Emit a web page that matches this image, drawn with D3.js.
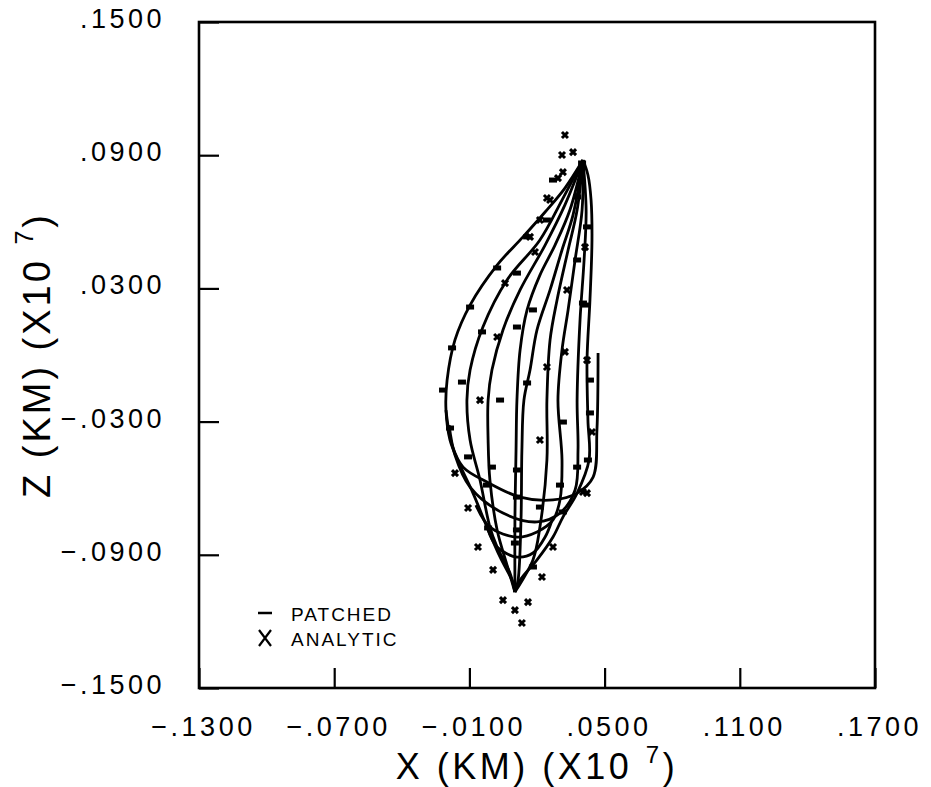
<!DOCTYPE html>
<html lang="en">
<head>
<meta charset="utf-8">
<title>X-Z projection, patched vs analytic</title>
<script src="https://d3js.org/d3.v7.min.js"></script>
<style>
  body { margin: 0; background: #fff; }
  text { font-family: "Liberation Sans", Arial, sans-serif; fill: #000; }
</style>
</head>
<body>
<script>
// tick values and labels (x10^7 km)
var xTickValues = [-0.13, -0.07, -0.01, 0.05, 0.11, 0.17];
var xTickLabels = ["\u2212.1300", "\u2212.0700", "\u2212.0100", ".0500", ".1100", ".1700"];
var zTickValues = [-0.15, -0.09, -0.03, 0.03, 0.09, 0.15];
var zTickLabels = ["\u2212.1500", "\u2212.0900", "\u2212.0300", ".0300", ".0900", ".1500"];
var legendLabels = ["PATCHED", "ANALYTIC"];

// patched trajectories, [x, z]
var outerLeft = [[0.0404,0.0878],[0.0324,0.0752],[0.0236,0.0644],[0.0138,0.0532],[0.0023,0.0405],[-0.0097,0.0225],[-0.0164,0.0068],[-0.0199,-0.0113],[-0.0204,-0.0248],[-0.0186,-0.0383],[-0.0142,-0.0496],[-0.0084,-0.0622],[-0.0022,-0.0775],[0.0036,-0.0910],[0.0094,-0.1027],[0.0102,-0.1068]];
var track2 = [[0.0404,0.0878],[0.0311,0.0698],[0.0213,0.0518],[0.0067,0.0338],[-0.0040,0.0126],[-0.0097,-0.0068],[-0.0111,-0.0203],[-0.0097,-0.0383],[-0.0053,-0.0563],[-0.0009,-0.0775],[0.0023,-0.0865],[0.0080,-0.0982],[0.0102,-0.1068]];
var track3 = [[0.0404,0.0878],[0.0324,0.0676],[0.0236,0.0495],[0.0125,0.0293],[0.0049,0.0113],[0.0000,-0.0068],[-0.0017,-0.0203],[-0.0017,-0.0383],[-0.0009,-0.0563],[0.0023,-0.0788],[0.0067,-0.0946],[0.0102,-0.1068]];
var track4 = [[0.0404,0.0878],[0.0346,0.0653],[0.0280,0.0495],[0.0213,0.0360],[0.0156,0.0203],[0.0125,0.0023],[0.0111,-0.0203],[0.0107,-0.0428],[0.0102,-0.0743],[0.0102,-0.1068]];
var track5 = [[0.0404,0.0878],[0.0360,0.0631],[0.0311,0.0473],[0.0258,0.0293],[0.0200,0.0113],[0.0169,-0.0068],[0.0142,-0.0203],[0.0133,-0.0428],[0.0129,-0.0743],[0.0116,-0.1014],[0.0102,-0.1068]];
var track6 = [[0.0404,0.0878],[0.0378,0.0653],[0.0338,0.0473],[0.0289,0.0248],[0.0258,0.0068],[0.0244,-0.0203],[0.0244,-0.0473],[0.0213,-0.0775],[0.0182,-0.0923],[0.0102,-0.1068]];
var track7 = [[0.0404,0.0878],[0.0400,0.0653],[0.0369,0.0428],[0.0338,0.0203],[0.0311,0.0023],[0.0293,-0.0203],[0.0311,-0.0473],[0.0302,-0.0653],[0.0271,-0.0743],[0.0200,-0.0797],[0.0111,-0.0820],[-0.0009,-0.0775],[-0.0071,-0.0676]];
var track8 = [[0.0404,0.0878],[0.0418,0.0653],[0.0409,0.0428],[0.0391,0.0158],[0.0378,-0.0203],[0.0382,-0.0428],[0.0369,-0.0608],[0.0302,-0.0712],[0.0200,-0.0752],[0.0049,-0.0712],[-0.0097,-0.0595],[-0.0164,-0.0451],[-0.0190,-0.0316]];
var outerRight = [[0.0404,0.0878],[0.0426,0.0811],[0.0440,0.0698],[0.0444,0.0518],[0.0435,0.0248],[0.0422,-0.0023],[0.0426,-0.0293],[0.0431,-0.0473],[0.0378,-0.0622],[0.0315,-0.0730],[0.0271,-0.0820],[0.0200,-0.0923],[0.0125,-0.1014],[0.0102,-0.1068]];
var arcWide = [[-0.0204,-0.0248],[-0.0177,-0.0405],[-0.0128,-0.0505],[-0.0022,-0.0572],[0.0125,-0.0640],[0.0271,-0.0653],[0.0378,-0.0622],[0.0449,-0.0550],[0.0466,-0.0338],[0.0471,0.0009]];
var arcLow = [[-0.0022,-0.0775],[0.0023,-0.0865],[0.0111,-0.0910],[0.0182,-0.0892],[0.0236,-0.0820],[0.0267,-0.0743]];

// patched points on the tracks
var patchedPts = [[-0.0097,0.0216],[-0.0177,0.0032],[-0.0217,-0.0158],[-0.0186,-0.0329],[-0.0044,0.0104],[-0.0133,-0.0122],[0.0036,-0.0203],[0.0111,0.0126],[0.0182,0.0203],[0.0156,-0.0126],[0.0315,-0.0302],[0.0413,0.0225],[0.0435,-0.0113],[0.0435,-0.0261],[0.0426,-0.0473],[0.0378,-0.0505],[0.0000,-0.0505],[0.0111,-0.0518],[-0.0106,-0.0459],[0.0023,0.0392],[0.0111,0.0369],[0.0156,0.0532],[0.0244,0.0608],[0.0271,0.0788],[0.0378,0.0428],[0.0404,0.0234],[0.0422,0.0577],[0.0378,0.0712],[-0.0022,-0.0586],[-0.0017,-0.0779],[0.0111,-0.0640],[0.0111,-0.0788],[0.0102,-0.0847],[0.0213,-0.0685],[0.0302,-0.0586],[0.0315,-0.0707],[0.0182,-0.0955],[0.0400,0.0865]];

// analytic points
var analyticPts = [[0.0023,0.0081],[-0.0053,-0.0203],[0.0244,-0.0054],[0.0213,-0.0383],[0.0324,0.0014],[0.0422,-0.0023],[0.0444,-0.0347],[0.0404,-0.0617],[-0.0164,-0.0532],[0.0058,0.0324],[0.0191,0.0464],[0.0258,0.0698],[0.0333,0.0293],[0.0413,0.0486],[-0.0106,-0.0689],[-0.0062,-0.0865],[0.0005,-0.0968],[0.0422,-0.0622],[0.0271,-0.0865],[0.0222,-0.1000],[0.0049,-0.1104],[0.0102,-0.1149],[0.0160,-0.1113],[0.0133,-0.1207],[0.0324,0.0991],[0.0311,0.0901],[0.0360,0.0914],[0.0293,0.0797],[0.0315,0.0824],[0.0244,0.0707],[0.0213,0.0608],[0.0169,0.0532]];

var tracks = [outerLeft, track2, track3, track4, track5, track6, track7, track8, outerRight, arcWide, arcLow];

var w = 931, h = 787;
var plotL = 199, plotR = 875, plotT = 22, plotB = 688;

var xScale = d3.scaleLinear().domain([-0.13, 0.17]).range([plotL, plotR]);
var zScale = d3.scaleLinear().domain([-0.15, 0.15]).range([plotB, plotT]);

var svg = d3.select("body").append("svg")
  .attr("width", w)
  .attr("height", h);

// axes, ticks pointing inward
var xAxis = d3.axisBottom(xScale)
  .tickValues(xTickValues)
  .tickSize(-20)
  .tickPadding(29)
  .tickFormat(function(d, i) { return xTickLabels[i]; });

var zAxis = d3.axisLeft(zScale)
  .tickValues(zTickValues)
  .tickSize(-20)
  .tickPadding(34)
  .tickFormat(function(d, i) { return zTickLabels[i]; });

var gx = svg.append("g")
  .attr("transform", "translate(0," + plotB + ")")
  .call(xAxis);
var gz = svg.append("g")
  .attr("transform", "translate(" + plotL + ",0)")
  .call(zAxis);

[gx, gz].forEach(function(g) {
  g.select(".domain").remove();
  g.selectAll(".tick line").attr("stroke", "#000").attr("stroke-width", 2.2);
  g.selectAll(".tick text")
    .attr("font-size", "27px")
    .attr("letter-spacing", "3.5px")
    .attr("fill", "#000");
});
gx.selectAll(".tick text").attr("dx", "4");
gz.selectAll(".tick text").attr("dy", "0.2em");

// frame
svg.append("rect")
  .attr("x", plotL)
  .attr("y", plotT)
  .attr("width", plotR - plotL)
  .attr("height", plotB - plotT)
  .attr("fill", "none")
  .attr("stroke", "#000")
  .attr("stroke-width", 2.6);

// tracks
var line = d3.line()
  .x(function(d) { return xScale(d[0]); })
  .y(function(d) { return zScale(d[1]); })
  .curve(d3.curveCatmullRom.alpha(0.5));

svg.append("g").selectAll("path")
  .data(tracks)
  .enter()
  .append("path")
  .attr("d", line)
  .attr("fill", "none")
  .attr("stroke", "#000")
  .attr("stroke-width", 2.8);

// patched markers (short dash)
svg.append("g").selectAll("rect")
  .data(patchedPts)
  .enter()
  .append("rect")
  .attr("x", function(d) { return xScale(d[0]) - 4; })
  .attr("y", function(d) { return zScale(d[1]) - 2.5; })
  .attr("width", 8)
  .attr("height", 5)
  .attr("fill", "#000");

// analytic markers (x)
svg.append("g").selectAll("path")
  .data(analyticPts)
  .enter()
  .append("path")
  .attr("d", function(d) {
    var cx = xScale(d[0]), cy = zScale(d[1]), s = 3;
    return "M" + (cx - s) + "," + (cy - s) + "L" + (cx + s) + "," + (cy + s) +
           "M" + (cx - s) + "," + (cy + s) + "L" + (cx + s) + "," + (cy - s);
  })
  .attr("stroke", "#000")
  .attr("stroke-width", 3);

// legend
var legend = svg.append("g");
legend.append("line")
  .attr("x1", 258).attr("x2", 272)
  .attr("y1", 613).attr("y2", 613)
  .attr("stroke", "#000").attr("stroke-width", 2.5);
legend.append("path")
  .attr("d", "M259,630L271,646M259,646L271,630")
  .attr("stroke", "#000").attr("stroke-width", 2.2);
legend.selectAll("text")
  .data(legendLabels)
  .enter()
  .append("text")
  .attr("x", 291)
  .attr("y", function(d, i) { return 621 + i * 25; })
  .attr("font-size", "19px")
  .attr("letter-spacing", "2px")
  .text(function(d) { return d; });

// axis titles
var xt = svg.append("text")
  .attr("x", (plotL + plotR) / 2)
  .attr("y", 779)
  .attr("text-anchor", "middle")
  .attr("font-size", "36px")
  .attr("letter-spacing", "3.5px");
xt.append("tspan").text("X (KM) (X10 ");
xt.append("tspan").attr("dy", -16).attr("font-size", "24px").text("7");
xt.append("tspan").attr("dy", 16).text(")");

var zt = svg.append("text")
  .attr("transform", "translate(50," + (plotT + plotB) / 2 + ") rotate(-90)")
  .attr("text-anchor", "middle")
  .attr("font-size", "38px")
  .attr("letter-spacing", "3px");
zt.append("tspan").text("Z (KM) (X10 ");
zt.append("tspan").attr("dy", -17).attr("font-size", "25px").text("7");
zt.append("tspan").attr("dy", 17).text(")");
</script>
</body>
</html>
